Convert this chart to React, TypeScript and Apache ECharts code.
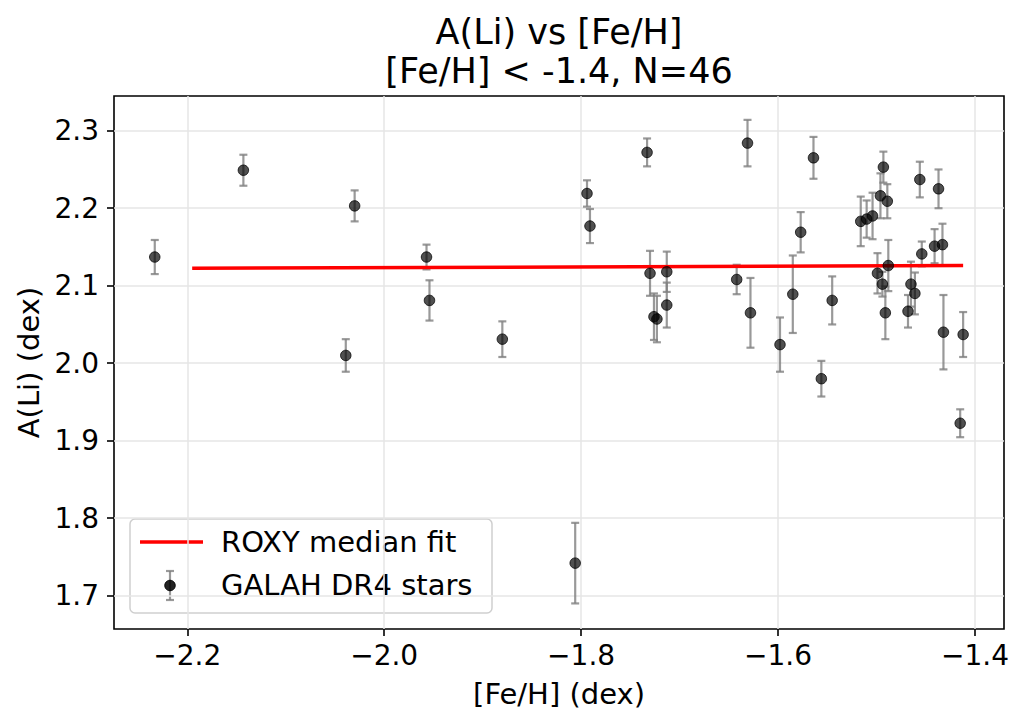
import React, { useEffect, useRef } from "react";
import * as echarts from "echarts";

const FEH = [
  -2.233, -2.143, -2.03, -2.039, -1.957, -1.954, -1.88, -1.794, -1.791, -1.733,
  -1.631, -1.73, -1.713, -1.726, -1.723, -1.713, -1.642, -1.628, -1.598, -1.585,
  -1.577, -1.564, -1.545, -1.556, -1.516, -1.51, -1.504, -1.496, -1.493, -1.489,
  -1.499, -1.494, -1.488, -1.491, -1.468, -1.465, -1.461, -1.456, -1.454, -1.437,
  -1.441, -1.433, -1.432, -1.412, -1.415, -1.806,
];
const ALI = [
  2.137, 2.249, 2.203, 2.01, 2.137, 2.081, 2.031, 2.219, 2.177, 2.272,
  2.284, 2.116, 2.118, 2.06, 2.057, 2.075, 2.108, 2.065, 2.024, 2.089,
  2.169, 2.265, 2.081, 1.98, 2.183, 2.186, 2.19, 2.216, 2.253, 2.209,
  2.116, 2.102, 2.126, 2.065, 2.067, 2.102, 2.09, 2.237, 2.141, 2.225,
  2.151, 2.153, 2.04, 2.037, 1.9225, 1.742,
];
const ERR = [
  0.022, 0.02, 0.02, 0.021, 0.016, 0.026, 0.023, 0.017, 0.022, 0.018,
  0.03, 0.029, 0.026, 0.03, 0.03, 0.029, 0.019, 0.045, 0.035, 0.05,
  0.026, 0.027, 0.031, 0.023, 0.032, 0.024, 0.03, 0.029, 0.02, 0.022,
  0.026, 0.016, 0.033, 0.034, 0.021, 0.029, 0.027, 0.023, 0.016, 0.025,
  0.022, 0.027, 0.048, 0.029, 0.018, 0.052,
];
const FIT_X = [-2.195, -1.412];
const FIT_Y = [2.1224, 2.1262];
const X_TICKS = [-2.2, -2.0, -1.8, -1.6, -1.4];
const Y_TICKS = [1.7, 1.8, 1.9, 2.0, 2.1, 2.2, 2.3];
const TITLE = "A(Li) vs [Fe/H]\n[Fe/H] < -1.4, N=46";
const X_NAME = "[Fe/H] (dex)";
const Y_NAME = "A(Li) (dex)";
const FIT_LABEL = "ROXY median fit";
const STAR_LABEL = "GALAH DR4 stars";

const FONT = '"DejaVu Sans", "Liberation Sans", sans-serif';
const EB_COLOR = "rgba(128,128,128,0.8)";
const PT_FILL = "rgba(0,0,0,0.86)";
const PT_EDGE = "rgba(0,0,0,0.95)";
const fmt = (v: number) => v.toFixed(1).replace("-", "\u2212");

export default function App() {
  const ref = useRef<HTMLDivElement>(null);
  useEffect(() => {
    document.body.style.margin = "0";
    const chart = echarts.init(ref.current!, null, { renderer: "svg" });
    const ebData = FEH.map((x, i) => [x, ALI[i] - ERR[i], ALI[i] + ERR[i]]);
    const ptData = FEH.map((x, i) => [x, ALI[i]]);
    const fitData = FIT_X.map((x, i) => [x, FIT_Y[i]]);
    const axisCommon = {
      type: "value" as const,
      axisLine: { show: false },
      axisTick: { show: true, length: 7, lineStyle: { color: "#000", width: 1.6 } },
      splitLine: { show: true, lineStyle: { color: "#e6e6e6", width: 1.5 } },
      nameLocation: "middle" as const,
      nameTextStyle: { fontSize: 29, color: "#000", fontFamily: FONT },
    };
    chart.setOption({
      animation: false,
      backgroundColor: "#fff",
      title: {
        text: TITLE,
        left: 559,
        top: 12,
        padding: 0,
        textAlign: "center",
        textStyle: { fontSize: 35, lineHeight: 39, fontWeight: "normal", color: "#000", fontFamily: FONT },
      },
      grid: {
        left: 114,
        right: 20,
        top: 96,
        bottom: 95,
        show: true,
        borderColor: "#000",
        borderWidth: 1.6,
        backgroundColor: "transparent",
        containLabel: false,
        outerBoundsMode: "none",
      },
      xAxis: {
        ...axisCommon,
        min: -2.2744,
        max: -1.3705,
        name: X_NAME,
        nameGap: 50,
        axisTick: { ...axisCommon.axisTick, customValues: X_TICKS },
        axisLabel: {
          customValues: X_TICKS,
          formatter: fmt,
          fontSize: 28,
          lineHeight: 28,
          margin: 12,
          color: "#000",
          fontFamily: FONT,
        },
      },
      yAxis: {
        ...axisCommon,
        min: 1.657,
        max: 2.3448,
        name: Y_NAME,
        nameGap: 70,
        axisTick: { ...axisCommon.axisTick, customValues: Y_TICKS },
        axisLabel: {
          customValues: Y_TICKS,
          formatter: fmt,
          fontSize: 28,
          margin: 15,
          color: "#000",
          fontFamily: FONT,
        },
      },
      series: [
        {
          type: "custom",
          name: "errors",
          z: 1,
          data: ebData,
          encode: { x: 0, y: [1, 2] },
          renderItem: (params: any, api: any) => {
            const x = api.value(0);
            const lo = api.coord([x, api.value(1)]);
            const hi = api.coord([x, api.value(2)]);
            const cw = 4;
            const style = { stroke: EB_COLOR, lineWidth: 2.2 };
            return {
              type: "group",
              children: [
                { type: "line", shape: { x1: lo[0], y1: lo[1], x2: hi[0], y2: hi[1] }, style },
                { type: "line", shape: { x1: lo[0] - cw, y1: lo[1], x2: lo[0] + cw, y2: lo[1] }, style },
                { type: "line", shape: { x1: hi[0] - cw, y1: hi[1], x2: hi[0] + cw, y2: hi[1] }, style },
              ],
            };
          },
        },
        {
          type: "line",
          name: FIT_LABEL,
          z: 2,
          data: fitData,
          showSymbol: false,
          lineStyle: { color: "#ff0000", width: 3.5 },
        },
        {
          type: "scatter",
          name: STAR_LABEL,
          z: 3,
          data: ptData,
          symbolSize: 10.5,
          itemStyle: { color: PT_FILL, borderColor: PT_EDGE, borderWidth: 1 },
        },
      ],
      graphic: [
        {
          type: "group",
          z: 100,
          children: [
            {
              type: "rect",
              shape: { x: 130, y: 519, width: 362, height: 94, r: 5 },
              style: { fill: "rgba(255,255,255,0.8)", stroke: "#cfcfcf", lineWidth: 1.5 },
            },
            {
              type: "line",
              shape: { x1: 140, y1: 542, x2: 203, y2: 542 },
              style: { stroke: "#ff0000", lineWidth: 3.5 },
            },
            {
              type: "line",
              shape: { x1: 170, y1: 571, x2: 170, y2: 600 },
              style: { stroke: EB_COLOR, lineWidth: 2.2 },
            },
            {
              type: "line",
              shape: { x1: 166, y1: 571, x2: 174, y2: 571 },
              style: { stroke: EB_COLOR, lineWidth: 2.2 },
            },
            {
              type: "line",
              shape: { x1: 166, y1: 600, x2: 174, y2: 600 },
              style: { stroke: EB_COLOR, lineWidth: 2.2 },
            },
            {
              type: "circle",
              shape: { cx: 170, cy: 585.5, r: 5.25 },
              style: { fill: PT_FILL, stroke: PT_EDGE, lineWidth: 1 },
            },
            {
              type: "text",
              style: {
                text: FIT_LABEL,
                x: 221,
                y: 542,
                fontSize: 29,
                fontFamily: FONT,
                fill: "#000",
                verticalAlign: "middle",
              },
            },
            {
              type: "text",
              style: {
                text: STAR_LABEL,
                x: 221,
                y: 585,
                fontSize: 29,
                fontFamily: FONT,
                fill: "#000",
                verticalAlign: "middle",
              },
            },
          ],
        },
      ],
    });
    return () => chart.dispose();
  }, []);
  return <div ref={ref} style={{ width: 1024, height: 724 }} />;
}
